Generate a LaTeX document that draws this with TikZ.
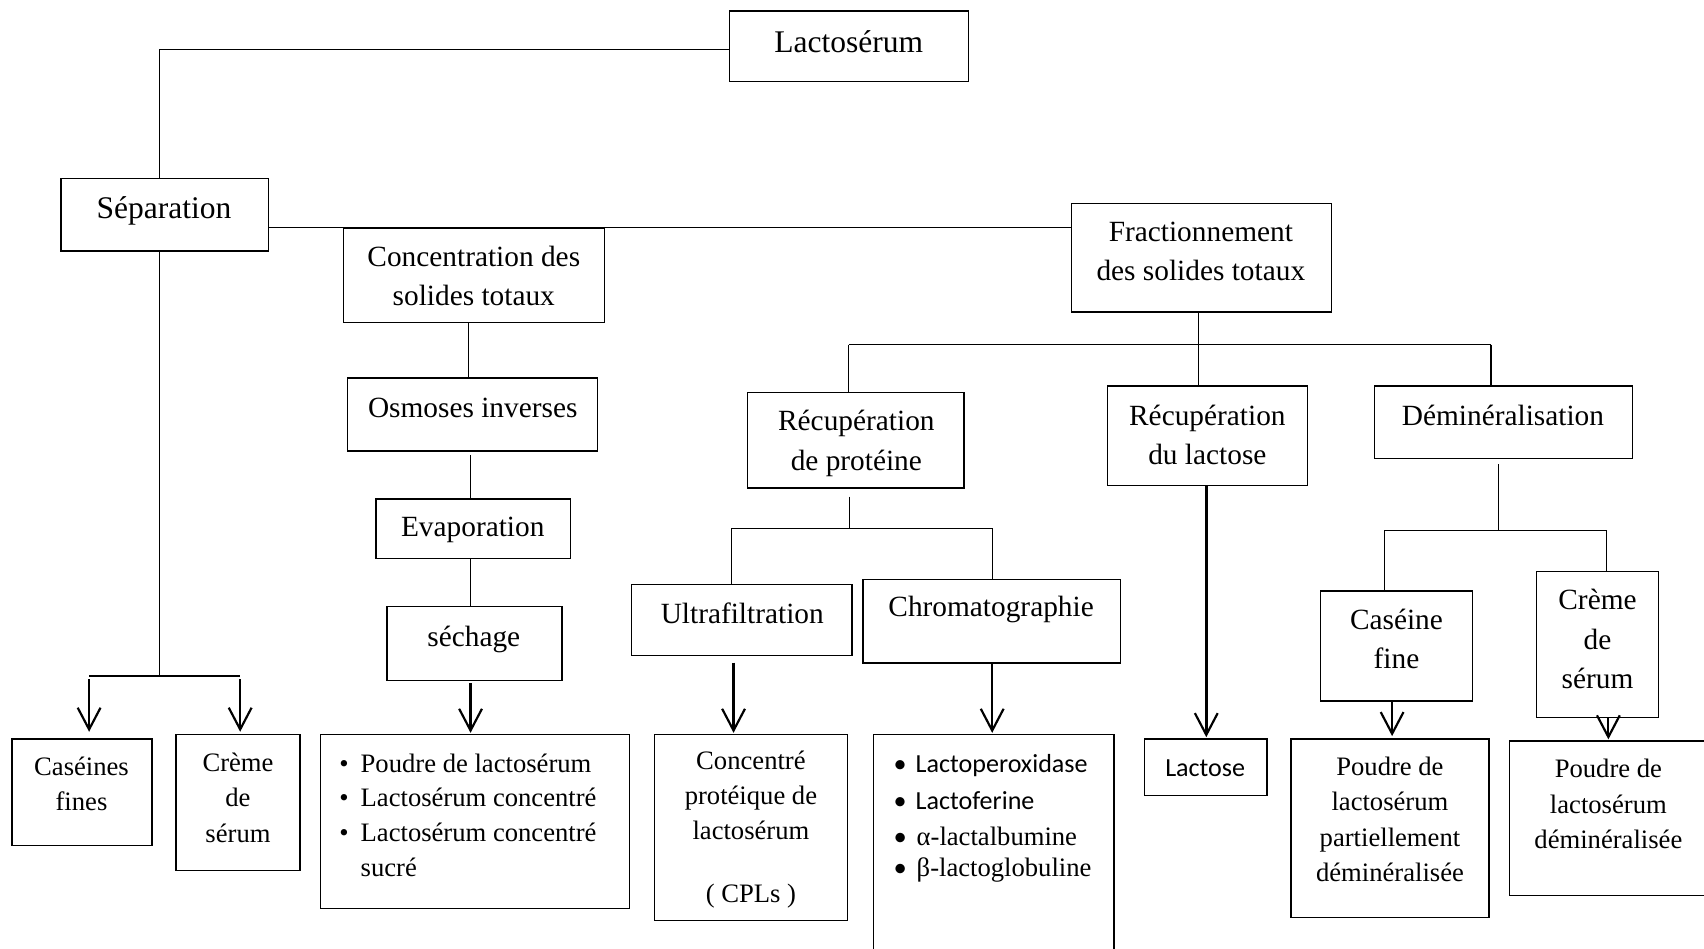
\documentclass[tikz,border=0pt]{standalone}
\usepackage{fontspec}
\setmainfont{Liberation Serif}
\newfontfamily\calib{Carlito}
\usetikzlibrary{arrows.meta}
\newcommand\bx[5]{\node[box, minimum width={#4pt-#2pt}, minimum height={#5pt-#3pt}] (#1) at ({(#2+#4)/2},{(#3+#5)/2}) {};}
\begin{document}
\begin{tikzpicture}[x=1pt,y=-1pt,
 box/.style={draw, line width=1.3pt, inner sep=0pt},
 conn/.style={line width=1.1pt},
 arr/.style={line width=2pt, -{Straight Barb[length=20pt,width=21pt,line width=2pt]}},
 big/.style={font=\fontsize{29}{36}\selectfont, align=center, inner sep=0pt},
 txt/.style={font=\fontsize{27}{36}\selectfont, align=center, inner sep=0pt},
 sm/.style={font=\fontsize{24.5}{32.5}\selectfont, align=center, inner sep=0pt},
 lst/.style={font=\fontsize{24.5}{32}\selectfont, align=left, inner sep=0pt, anchor=west},
 lstc/.style={font=\calib\fontsize{24}{32}\selectfont, align=left, inner sep=0pt, anchor=west},
]
\useasboundingbox (0,0) rectangle (1568,873);
\fill[white] (0,0) rectangle (1568,873);

% boxes and texts
\bx{lacto}{671}{10}{891}{75}
\node[big] (tlacto) at (781,38) {Lactosérum};
\bx{sep}{56}{164}{247}{231}
\node[big] (tsep) at (151,194) {Séparation};
\bx{conc}{316}{210}{556}{297}
\node[txt] (tconc) at (436,254) {Concentration des\\solides totaux};
\bx{frac}{986}{187}{1225}{287}
\node[txt] (tfrac) at (1105,231) {Fractionnement\\des solides totaux};
\bx{osm}{320}{348}{550}{415}
\node[txt] (tosm) at (435,375) {Osmoses inverses};
\bx{evap}{346}{459}{525}{514}
\node[txt] (tevap) at (435,488) {Evaporation};
\bx{sech}{356}{558}{517}{626}
\node[txt] (tsech) at (436,588) {séchage};
\bx{lsta}{295}{676}{579}{836}
\node[lst] (tlsta) at (312,750) {•\hspace{5pt} Poudre de lactosérum\\•\hspace{5pt} Lactosérum concentré\\•\hspace{5pt} Lactosérum concentré\\\phantom{•\hspace{5pt} }sucré};
\bx{cas}{11}{680}{140}{778}
\node[sm] (tcas) at (75,721) {Caséines\\fines};
\bx{cra}{162}{676}{276}{801}
\node[sm] (tcra) at (219,734) {Crème\\de\\sérum};
\bx{rprot}{688}{361}{887}{449}
\node[txt] (trprot) at (788,408) {Récupération\\de protéine};
\bx{rlact}{1019}{355}{1203}{447}
\node[txt] (trlact) at (1111,400) {Récupération\\du lactose};
\bx{demin}{1265}{355}{1502}{422}
\node[txt] (tdemin) at (1383,382) {Déminéralisation};
\bx{ultra}{581}{538}{784}{603}
\node[txt] (tultra) at (683,564) {Ultrafiltration};
\bx{chrom}{794}{533}{1031}{610}
\node[txt] (tchrom) at (912,561) {Chromatographie};
\bx{cpl}{602}{676}{780}{847}
\node[sm] (tcpl) at (691,763) {Concentré\\protéique de\\lactosérum\\[25pt]( CPLs )};
\bx{lactop}{804}{676}{1025}{890}
\node[lstc] (tl1) at (822,704) {•\hspace{3pt} Lactoperoxidase};
\node[lstc] (tl2) at (822,737) {•\hspace{3pt} Lactoferine};
\node[lst] (tl3) at (822,770) {\calib•\hspace{3pt}\rmfamily\ α-lactalbumine};
\node[lst] (tl4) at (822,801) {\calib•\hspace{3pt}\rmfamily\ β-lactoglobuline};
\bx{lactose}{1053}{680}{1166}{732}
\node[font=\calib\fontsize{24}{30}\selectfont, inner sep=0pt] (tlactose) at (1109,707) {Lactose};
\bx{casf}{1215}{544}{1355}{645}
\node[txt] (tcasf) at (1285,588) {Caséine\\fine};
\bx{crb}{1414}{526}{1526}{660}
\node[txt] (tcrb) at (1470,588) {Crème\\de\\sérum};
\bx{ppd}{1188}{680}{1370}{844}
\node[sm] (tppd) at (1279,754) {Poudre de\\lactosérum\\partiellement\\déminéralisée};
\bx{pd}{1389}{682}{1580}{824}
\node[sm] (tpd) at (1480,740) {Poudre de\\lactosérum\\déminéralisée};

% junction coordinates
\coordinate (jsep) at (147,622);
\coordinate (ja) at (82,622);
\coordinate (jb) at (221,622);
\coordinate (jf) at (1103,317);
\coordinate (jfl) at (781,317);
\coordinate (jfr) at (1372,317);
\coordinate (jp0) at (782,457);
\coordinate (jp) at (782,486);
\coordinate (jpl) at (673,486);
\coordinate (jpr) at (913,486);
\coordinate (jd0) at (1379,427);
\coordinate (jd) at (1379,488);
\coordinate (jdl) at (1274,488);
\coordinate (jdr) at (1478,488);

% connectors
\draw[conn] ([yshift=-3pt]lacto.west) -| (sep.north -| jsep);
\draw[conn] (sep.east |- conc.north) -- (frac.west |- conc.north);
\draw[conn] (conc.south -| 431,0) -- (osm.north -| 431,0);
\draw[conn] ([yshift=-3pt]osm.south -| 433,0) -- (evap.north -| 433,0);
\draw[conn] (evap.south -| 433,0) -- (sech.north -| 433,0);
\draw[arr] ([yshift=-2pt]sech.south -| 433,0) -- ([yshift=1pt]lsta.north -| 433,0);

\draw[conn] (sep.south -| jsep) -- (jsep);
\draw[conn] (ja) -- (jb);
\draw[arr] ([yshift=-3pt]ja) -- ([yshift=6pt]cas.north -| ja);
\draw[arr] ([yshift=-3pt]jb) -- ([yshift=2pt]cra.north -| jb);

\draw[conn] (frac.south -| jf) -- (jf);
\draw[conn] (jfl) -- (jfr);
\draw[conn] (jfl) -- (rprot.north -| jfl);
\draw[conn] (jf) -- (rlact.north -| jf);
\draw[conn] (jfr) -- (demin.north -| jfr);

\draw[conn] (jp0) -- (jp);
\draw[conn] (jpl) -- (jpr);
\draw[conn] (jpl) -- (ultra.north -| jpl);
\draw[conn] (jpr) -- (chrom.north -| jpr);
\draw[arr] ([yshift=-6pt]ultra.south -| 675,0) -- ([yshift=1pt]cpl.north -| 675,0);
\draw[arr] (chrom.south -| 913,0) -- ([yshift=1pt]lactop.north -| 913,0);
\draw[arr, line width=2.6pt] (rlact.south -| 1110,0) -- ([yshift=1pt]lactose.north -| 1110,0);

\draw[conn] (jd0) -- (jd);
\draw[conn] (jdl) -- (jdr);
\draw[conn] (jdl) -- (casf.north -| jdl);
\draw[conn] (jdr) -- (crb.north -| jdr);
\draw[arr] (casf.south -| 1281,0) -- ([yshift=2pt]ppd.north -| 1281,0);
\draw[arr] (crb.south -| 1480,0) -- ([yshift=1pt]pd.north -| 1480,0);
\end{tikzpicture}
\end{document}
